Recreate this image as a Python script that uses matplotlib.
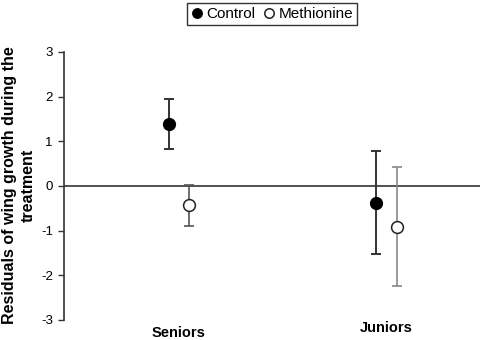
import matplotlib
matplotlib.use("Agg")
import matplotlib.pyplot as plt

plt.rcParams['font.family'] = ['Liberation Sans', 'DejaVu Sans']

groups = ["Seniors", "Juniors"]
control_mean = [1.38, -0.37]
control_upper = [1.95, 0.78]
control_lower = [0.82, -1.53]
meth_mean = [-0.43, -0.91]
meth_upper = [0.02, 0.43]
meth_lower = [-0.90, -2.24]
meth_err_colors = ["#555555", "#888888"]

W, H = 481, 340
fig = plt.figure(figsize=(W/100, H/100), dpi=100)
ax = fig.add_axes([64/W, 1-320/H, 1-64/W, (320-52)/H])

off = 0.05
for i in range(len(groups)):
    ax.errorbar(i - off, control_mean[i],
                yerr=[[control_mean[i]-control_lower[i]], [control_upper[i]-control_mean[i]]],
                fmt='none', ecolor='#333333', elinewidth=1.4, capsize=3.5, capthick=1.4, zorder=2)
    ax.errorbar(i + off, meth_mean[i],
                yerr=[[meth_mean[i]-meth_lower[i]], [meth_upper[i]-meth_mean[i]]],
                fmt='none', ecolor=meth_err_colors[i], elinewidth=1.2, capsize=3.5, capthick=1.2, zorder=2)
ax.plot([i - off for i in range(2)], control_mean, 'o', color='black', ms=8.5, ls='none',
        label='Control', zorder=3)
ax.plot([i + off for i in range(2)], meth_mean, 'o', mfc='white', mec='#222222', mew=1.1, ms=8.5,
        ls='none', label='Methionine', zorder=3)

ax.axhline(0, color='#333333', lw=1.2, zorder=1)
ax.set_xlim(-0.554, 1.455)
ax.set_ylim(-3, 3)
ax.set_yticks([-3, -2, -1, 0, 1, 2, 3])
ax.set_yticklabels(['-3', '-2', '-1', '0', '1', '2', '3'], fontsize=9.5)
ax.set_xticks([])
ax.tick_params(axis='y', length=4, width=1, color='#333333', pad=4)
for s in ['top', 'right', 'bottom']:
    ax.spines[s].set_visible(False)
ax.spines['left'].set_color('#333333')
ax.spines['left'].set_linewidth(1.2)

# category labels below the plot
label_y_px = [333, 328]
for i, g in enumerate(groups):
    ax.text(i, 1 - (label_y_px[i] - 52) / (320 - 52), g, transform=ax.get_xaxis_transform(),
            ha='center', va='center', fontsize=10.5, fontweight='bold')

fig.text(19/W, 1-185.5/H, 'Residuals of wing growth during the\ntreatment', rotation=90,
         ha='center', va='center', fontsize=11.5, fontweight='bold', linespacing=1.35)

leg = fig.legend(loc='center', bbox_to_anchor=(272/W, 1-14/H), ncol=2, fontsize=11,
                 frameon=True, fancybox=False, edgecolor='black', handletextpad=0.2,
                 columnspacing=0.5, handlelength=0.8, borderpad=0.25, borderaxespad=0,
                 markerscale=0.8)
leg.get_frame().set_linewidth(1.0)

fig.savefig('out.png', dpi=100)
